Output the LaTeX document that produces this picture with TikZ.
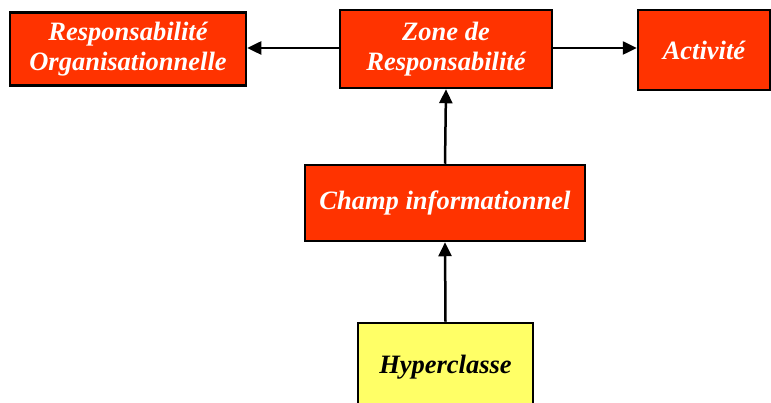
\documentclass[tikz,border=0pt]{standalone}
\usepackage{fontspec}
\setmainfont{Liberation Serif}
\usetikzlibrary{arrows.meta}
\definecolor{boxred}{HTML}{FF3300}
\definecolor{boxyellow}{HTML}{FFFF66}
\tikzset{
  box/.style={draw=black, line width=2.5pt, fill=boxred, text=white, align=center,
    font=\fontsize{26.5}{30}\selectfont\bfseries\itshape, inner sep=0pt},
  ybox/.style={box, fill=boxyellow, text=black},
  conn/.style={line width=2.5pt, -{Triangle[length=14pt,width=13pt]}}
}
\begin{document}
\begin{tikzpicture}[x=1pt,y=1pt]
\useasboundingbox (0,0) rectangle (771,-403);
\node[box, minimum width=236pt, minimum height=73pt] (ro) at (128,-49) {Responsabilité\\Organisationnelle};
\node[box, minimum width=212pt, minimum height=78pt] (zr) at (446,-49) {Zone de\\Responsabilité};
\node[box, minimum width=132pt, minimum height=80pt] (ac) at (704,-50) {Activité};
\node[box, minimum width=280pt, minimum height=76pt] (ci) at (445,-203) {Champ informationnel};
\node[ybox, minimum width=175pt, minimum height=88pt] (hc) at (445.5,-367) {Hyperclasse};
\draw[conn] (zr.west |- 0,-48) -- (ro.east |- 0,-48);
\draw[conn] (zr.east |- 0,-48) -- (ac.west |- 0,-48);
\draw[conn] (ci.north) -- (zr.south);
\draw[conn] (hc.north) -- (ci.south);
\end{tikzpicture}
\end{document}
